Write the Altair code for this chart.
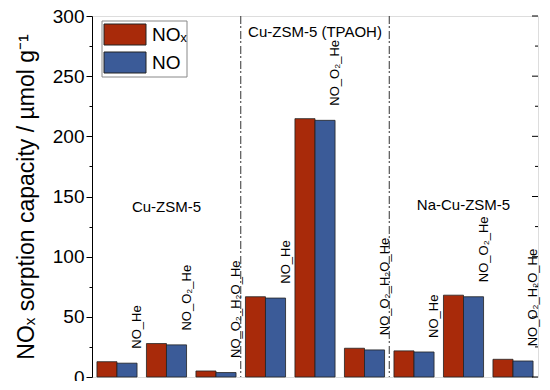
import altair as alt
import pandas as pd

# ---- data ----
groups = ["Cu-ZSM-5 | NO_He", "Cu-ZSM-5 | NO_O2_He", "Cu-ZSM-5 | NO_O2_H2O_He",
          "TPAOH | NO_He", "TPAOH | NO_O2_He", "TPAOH | NO_O2_H2O_He",
          "Na | NO_He", "Na | NO_O2_He", "Na | NO_O2_H2O_He"]
conditions = ["NO_He", "NO_O₂_He", "NO_O₂_H₂O_He"] * 3
nox_values = [12.7, 27.8, 5.0, 66.7, 214.7, 23.9, 21.7, 68.0, 14.7]
no_values = [11.5, 26.7, 3.7, 65.6, 213.3, 22.5, 20.8, 66.7, 13.3]
series = ["NOₓ", "NO"]
series_colors = ["#A82A0A", "#3B5B98"]
sections = ["Cu-ZSM-5", "Cu-ZSM-5 (TPAOH)", "Na-Cu-ZSM-5"]
section_groups = [groups[1], groups[4], groups[7]]
# separators sit in the gap just before these groups
separator_groups = [groups[3], groups[6]]
major_ticks = list(range(0, 301, 50))
minor_ticks = list(range(25, 300, 50))

FONT = "Liberation Sans"
W, H = 446, 361

rows = []
for g, a, b in zip(groups, nox_values, no_values):
    rows.append({"group": g, "series": series[0], "value": a})
    rows.append({"group": g, "series": series[1], "value": b})
bars_df = pd.DataFrame(rows)
labels_df = pd.DataFrame({"group": groups, "label": conditions, "top": nox_values})
sep_df = pd.DataFrame({"group": separator_groups})
major_df = pd.DataFrame({"tick": major_ticks})
minor_df = pd.DataFrame({"tick": minor_ticks})

x_scale = alt.Scale(domain=groups, paddingInner=0.19, paddingOuter=0.1)
y_scale = alt.Scale(domain=[0, 300], nice=False, zero=True)

all_ticks = sorted(major_ticks + minor_ticks)
major_test = "datum.value % 50 === 0"

left_axis = alt.Axis(
    values=all_ticks, orient="left", grid=False,
    title="NOₓ sorption capacity / µmol g⁻¹",
    labelExpr=f"{major_test} ? datum.label : ''",
    tickSize={"condition": {"test": major_test, "value": 6}, "value": 3},
    labelFontSize=19, titleFontSize=23, titleFontWeight="normal",
    labelPadding=2, titlePadding=14,
    domainColor="black", tickColor="black", labelColor="black", titleColor="black",
    labelFont=FONT, titleFont=FONT,
)

bars = alt.Chart(bars_df).mark_bar(stroke="#222", strokeWidth=0.8).encode(
    x=alt.X("group:N", scale=x_scale, axis=None),
    xOffset=alt.XOffset("series:N", sort=series,
                        scale=alt.Scale(domain=series, paddingInner=0, paddingOuter=0)),
    y=alt.Y("value:Q", scale=y_scale, axis=left_axis),
    color=alt.Color("series:N", sort=series,
                    scale=alt.Scale(domain=series, range=series_colors),
                    legend=None),
)

cond_labels = alt.Chart(labels_df).mark_text(
    angle=270, align="left", baseline="middle", dx=13, fontSize=13,
    font=FONT, color="black",
).encode(
    x=alt.X("group:N", scale=x_scale, axis=None, bandPosition=1),
    y=alt.Y("top:Q", scale=y_scale, axis=None),
    text="label:N",
)

separators = alt.Chart(sep_df).mark_rule(
    color="#333", strokeWidth=1, strokeDash=[8, 2, 2, 3],
).encode(
    x=alt.X("group:N", scale=x_scale, axis=None),
    xOffset=alt.value(-4.7),
)

# inward ticks on the right frame
right_major = alt.Chart(major_df).mark_rule(color="black", strokeWidth=1).encode(
    y=alt.Y("tick:Q", scale=y_scale, axis=None),
    x=alt.value(W - 6), x2=alt.value(W),
)
right_minor = alt.Chart(minor_df).mark_rule(color="black", strokeWidth=1).encode(
    y=alt.Y("tick:Q", scale=y_scale, axis=None),
    x=alt.value(W - 3), x2=alt.value(W),
)

section_layers = []
section_y_px = [191, 16, 189]
for name, grp, ypx in zip(sections, section_groups, section_y_px):
    sdf = pd.DataFrame({"group": [grp], "name": [name]})
    section_layers.append(
        alt.Chart(sdf).mark_text(fontSize=15, font=FONT, color="black",
                                 baseline="middle", align="center").encode(
            x=alt.X("group:N", scale=x_scale, axis=None),
            y=alt.value(ypx),
            text="name:N",
        )
    )

# legend drawn by hand (rectangular swatches)
legend_layers = []
one = pd.DataFrame({"k": [0]})
legend_layers.append(
    alt.Chart(one).mark_rect(fill="white", stroke="#888", strokeWidth=1).encode(
        x=alt.value(10), x2=alt.value(95), y=alt.value(5), y2=alt.value(61))
)
for i, (name, col) in enumerate(zip(series, series_colors)):
    y0 = 8 + i * 28
    legend_layers.append(
        alt.Chart(one).mark_rect(fill=col, stroke="#222", strokeWidth=1).encode(
            x=alt.value(12), x2=alt.value(54), y=alt.value(y0), y2=alt.value(y0 + 21))
    )
    legend_layers.append(
        alt.Chart(pd.DataFrame({"t": [name]})).mark_text(
            fontSize=19, font=FONT, color="black", align="left", baseline="middle"
        ).encode(x=alt.value(60), y=alt.value(y0 + 11), text="t:N")
    )

chart = alt.layer(
    bars, cond_labels, separators, right_major, right_minor,
    *section_layers, *legend_layers
).resolve_axis(y="independent").properties(
    width=W, height=H,
    padding={"left": 84, "top": 8, "right": 4, "bottom": 4},
    autosize=alt.AutoSizeParams(type="none"),
).configure_view(stroke="black", strokeWidth=1.3).configure(font=FONT)

chart.save("out.html", embed_options={"renderer": "svg", "actions": False})
